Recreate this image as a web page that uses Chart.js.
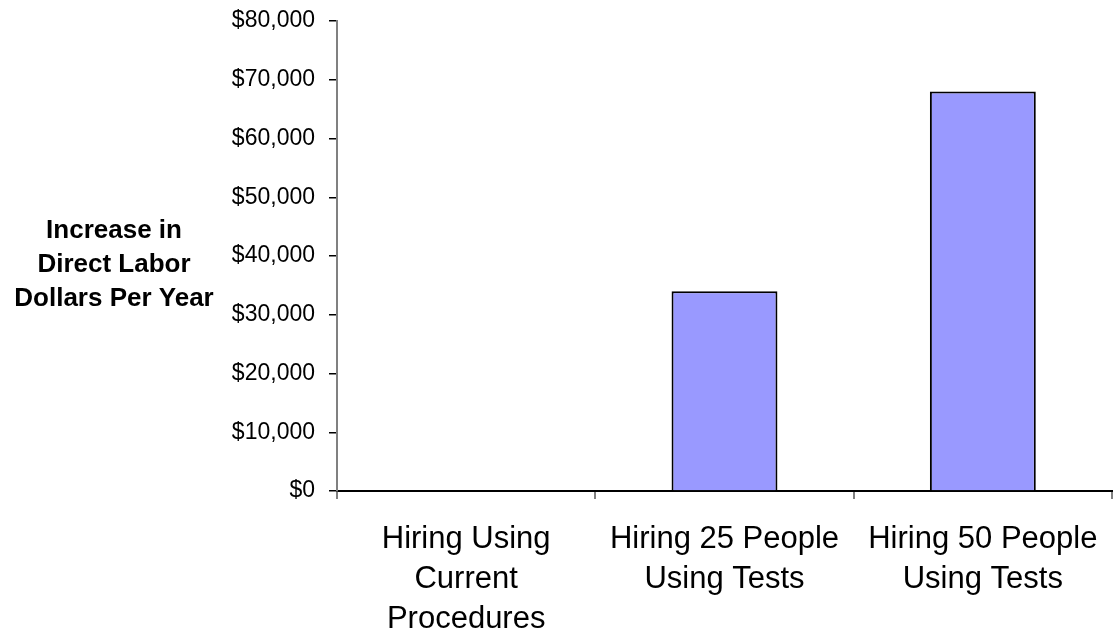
<!DOCTYPE html>
<html>
<head>
<meta charset="utf-8">
<script src="https://cdn.jsdelivr.net/npm/chart.js@4"></script>
<style>
  html, body { margin: 0; padding: 0; background: #fff; }
  #wrap { width: 1114px; height: 631px; }
</style>
</head>
<body>
<div id="wrap"><canvas id="barChart"></canvas></div>
<script>
const categories = [
  ["Hiring Using", "Current", "Procedures"],
  ["Hiring 25 People", "Using Tests"],
  ["Hiring 50 People", "Using Tests"],
];
const laborIncrease = [0, 34000, 68000];
const yTicks = [0, 10000, 20000, 30000, 40000, 50000, 60000, 70000, 80000];
const yTitle = ["Increase in", "Direct Labor", "Dollars Per Year"];

// horizontal y axis title, drawn left of the tick labels
const sideTitle = {
  id: "sideTitle",
  afterDraw(chart) {
    const c = chart.ctx;
    const mid = (chart.chartArea.top + chart.chartArea.bottom) / 2;
    c.save();
    c.font = "bold 26px 'Liberation Sans', Arial, sans-serif";
    c.fillStyle = "#000";
    c.textAlign = "center";
    c.textBaseline = "middle";
    yTitle.forEach((t, i) => {
      c.fillText(t, 114, mid + (i - 1) * 34 + 9);
    });
    c.restore();
  },
};

let ctx = document.getElementById("barChart").getContext("2d");
let myChart = new Chart(ctx, {
  type: "bar",
  data: {
    labels: categories,
    datasets: [
      {
        data: laborIncrease,
        backgroundColor: "#9999FF",
        borderColor: "#000",
        borderWidth: 2,
        barPercentage: 0.41,
        categoryPercentage: 1,
      },
    ],
  },
  options: {
    responsive: true,
    maintainAspectRatio: false,
    animation: false,
    layout: { padding: { top: 21, right: 2, left: 0, bottom: 0 } },
    plugins: { legend: { display: false }, tooltip: { enabled: false } },
    scales: {
      x: {
        afterFit: (s) => {
          s.height = 140;
          s.paddingLeft = 0;
          s.paddingRight = 0;
        },
        grid: {
          offset: true,
          drawOnChartArea: false,
          color: "#808080",
          tickLength: 8,
          lineWidth: 2,
        },
        border: { color: "#000", width: 2 },
        ticks: {
          color: "#000",
          padding: 20,
          maxRotation: 0,
          font: { family: "'Liberation Sans', Arial, sans-serif", size: 31, lineHeight: 1.29 },
        },
      },
      y: {
        min: 0,
        max: 80000,
        afterFit: (s) => {
          s.width = 337;
          s.paddingTop = 0;
          s.paddingBottom = 0;
        },
        afterBuildTicks: (s) => { s.ticks = yTicks.map((v) => ({ value: v })); },
        grid: { drawOnChartArea: false, color: "#000", tickLength: 8, lineWidth: 1.5 },
        border: { color: "#808080", width: 2 },
        ticks: {
          color: "#000",
          padding: 14,
          font: { family: "'Liberation Sans', Arial, sans-serif", size: 23 },
          callback: (v) => "$" + v.toLocaleString("en-US"),
        },
      },
    },
  },
  plugins: [sideTitle],
});
</script>
</body>
</html>
